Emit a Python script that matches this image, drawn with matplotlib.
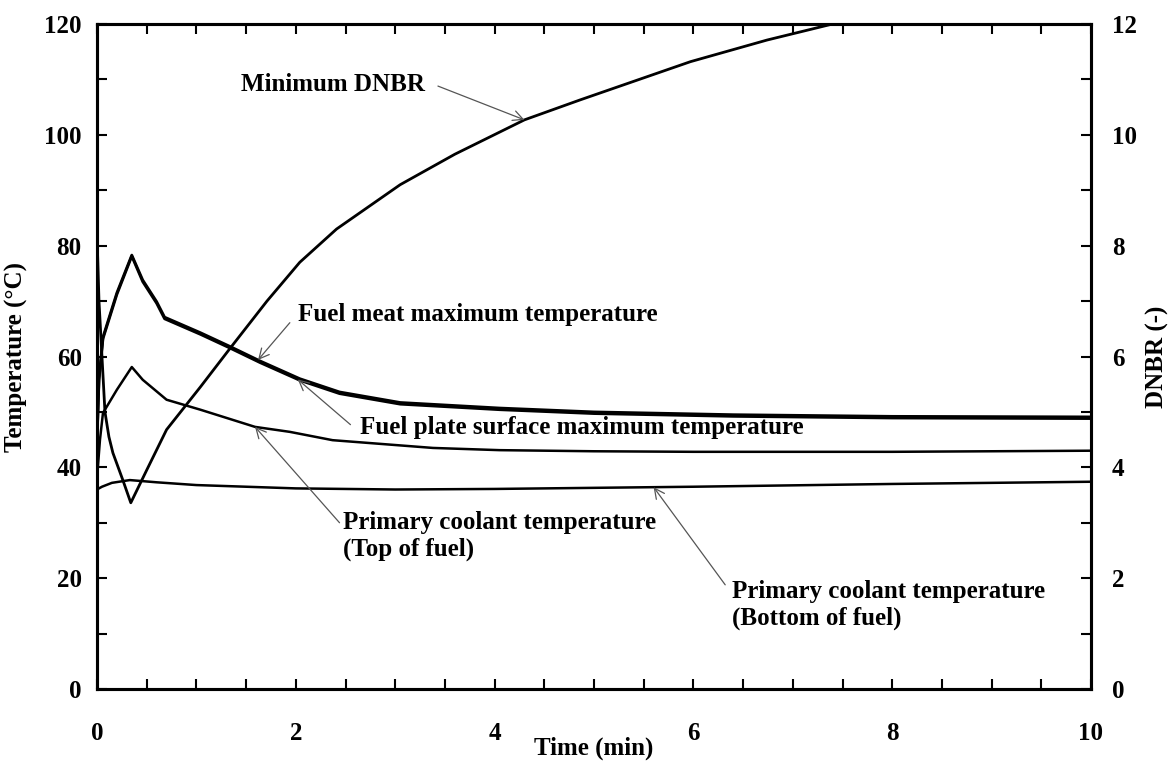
import numpy as np
import matplotlib
matplotlib.use('Agg')
import matplotlib.pyplot as plt

# time (min) and temperatures (deg C) read for each trace
t_meat = [0, 0.02, 0.06, 0.2, 0.35, 0.46, 0.6, 0.68, 1.04, 1.34, 1.64, 2.04, 2.44, 3.05, 4.05, 5.0, 6.4, 8.0, 10.0]
meat_temp = [45, 56, 63.5, 71.5, 78.3, 73.8, 69.9, 67.1, 64.3, 61.8, 59.2, 56.0, 53.6, 51.7, 50.7, 50.0, 49.5, 49.2, 49.1]
surface_temp = [44.7, 55.7, 63.2, 71.2, 78.1, 73.5, 69.6, 66.8, 64.0, 61.5, 58.9, 55.7, 53.3, 51.4, 50.4, 49.7, 49.2, 48.9, 48.8]

t_top = [0, 0.03, 0.06, 0.2, 0.35, 0.46, 0.7, 1.04, 1.59, 1.94, 2.37, 3.38, 4.05, 5.0, 6.0, 8.0, 10.0]
top_temp = [38, 45, 49.8, 54, 58.1, 55.8, 52.2, 50.4, 47.3, 46.4, 44.9, 43.5, 43.1, 42.9, 42.8, 42.8, 43.0]

t_bottom = [0, 0.05, 0.15, 0.33, 0.6, 1.0, 2.0, 3.0, 4.0, 6.0, 8.0, 10.0]
bottom_temp = [36.0, 36.5, 37.2, 37.7, 37.3, 36.8, 36.2, 36.0, 36.1, 36.5, 37.0, 37.4]

# minimum DNBR on the right axis
t_dnbr = [0, 0.02, 0.05, 0.08, 0.12, 0.16, 0.26, 0.34, 0.5, 0.7, 1.04, 1.34, 1.71, 2.04, 2.41, 3.05, 3.6, 4.3, 4.86, 5.97, 6.74, 7.4]
dnbr = [8.2, 7.0, 6.0, 5.0, 4.55, 4.26, 3.77, 3.36, 3.95, 4.68, 5.45, 6.15, 7.0, 7.7, 8.3, 9.1, 9.65, 10.27, 10.63, 11.32, 11.71, 12.0]

plt.rcParams['font.family'] = ['Liberation Serif', 'DejaVu Serif']
plt.rcParams['font.weight'] = 'bold'
plt.rcParams['axes.labelweight'] = 'bold'
plt.rcParams['font.size'] = 18

fig = plt.figure(figsize=(11.74, 7.65), dpi=100)
ax = fig.add_axes([97 / 1174, 1 - 689 / 765, (1091 - 97) / 1174, (689 - 24) / 765])
ax2 = ax.twinx()

ax.plot(t_meat, meat_temp, color='black', lw=2.0, solid_joinstyle='round')
ax.plot(t_meat, surface_temp, color='black', lw=2.0, solid_joinstyle='round')
ax.plot(t_top, top_temp, color='black', lw=1.8)
ax.plot(t_bottom, bottom_temp, color='black', lw=1.8)
ax2.plot(t_dnbr, dnbr, color='black', lw=2.0)

ax.set_xlim(0, 10)
ax.set_ylim(0, 120)
ax2.set_ylim(0, 12)

ax.set_xticks(np.arange(0, 10.1, 2))
ax.set_xticks(np.arange(0, 10.01, 0.5), minor=True)
ax.set_yticks(np.arange(0, 121, 20))
ax.set_yticks(np.arange(0, 121, 10), minor=True)
ax2.set_yticks(np.arange(0, 13, 2))
ax2.set_yticks(np.arange(0, 13, 1), minor=True)

ax.tick_params(axis='x', which='both', direction='in', top=True, length=7, width=1.5, pad=24)
ax.tick_params(axis='y', which='both', direction='in', right=False, length=7, width=1.5, pad=11)
ax2.tick_params(axis='y', which='both', direction='in', length=7, width=1.5, pad=15)

for a in (ax, ax2):
    for s in a.spines.values():
        s.set_linewidth(2.2)

ax.set_xlabel('Time (min)')
ax.xaxis.set_label_coords(0.5, -0.072)
ax.set_ylabel('Temperature (°C)')
ax.yaxis.set_label_coords(-0.069, 0.5)
ax2.set_ylabel('DNBR (-)', rotation=90)
ax2.yaxis.set_label_coords(1.055, 0.5)

arrow = dict(arrowstyle='->', color='#555555', lw=0.9, mutation_scale=18, shrinkA=0, shrinkB=0)

# labels and leader arrows
ax.text(1.45, 109.0, 'Minimum DNBR', ha='left', va='center')
tip = 4.3
ax2.annotate('', xy=(tip, np.interp(tip, t_dnbr, dnbr)), xytext=(3.43, 10.88), arrowprops=arrow)

ax.text(2.02, 67.5, 'Fuel meat maximum temperature', ha='left', va='center')
tip = 1.62
ax.annotate('', xy=(tip, np.interp(tip, t_meat, meat_temp)), xytext=(1.94, 66.1), arrowprops=arrow)

ax.text(2.65, 47.1, 'Fuel plate surface maximum temperature', ha='left', va='center')
tip = 2.02
ax.annotate('', xy=(tip, np.interp(tip, t_meat, surface_temp)), xytext=(2.55, 47.7), arrowprops=arrow)

ax.text(2.47, 27.6, 'Primary coolant temperature\n(Top of fuel)', ha='left', va='center', linespacing=1.2)
tip = 1.59
ax.annotate('', xy=(tip, np.interp(tip, t_top, top_temp)), xytext=(2.44, 30.0), arrowprops=arrow)

ax.text(6.39, 15.2, 'Primary coolant temperature\n(Bottom of fuel)', ha='left', va='center', linespacing=1.2)
tip = 5.6
ax.annotate('', xy=(tip, np.interp(tip, t_bottom, bottom_temp)), xytext=(6.32, 18.8), arrowprops=arrow)

fig.savefig('out.png', dpi=100)
